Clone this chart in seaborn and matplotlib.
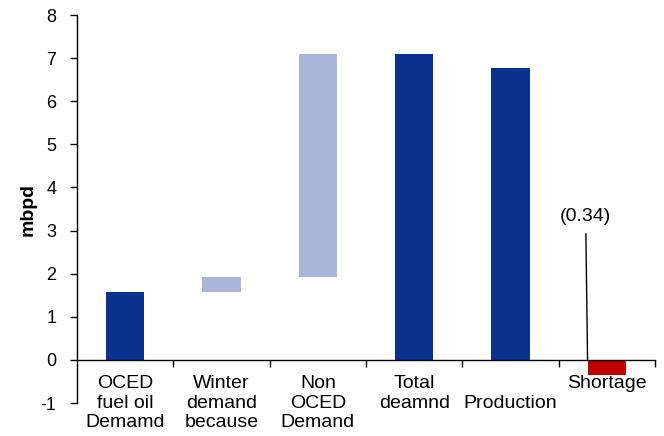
import matplotlib
matplotlib.use("Agg")
import matplotlib.pyplot as plt
import seaborn as sns
import pandas as pd

# Waterfall of supply/demand components (million barrels per day)
categories = [
    "OCED\nfuel oil\nDemamd",
    "Winter\ndemand\nbecause",
    "Non\nOCED\nDemand",
    "Total\ndeamnd",
    "\nProduction",
    "Shortage",
]
bar_base = [0.0, 1.58, 1.92, 0.0, 0.0, 0.0]
bar_value = [1.58, 0.34, 5.18, 7.10, 6.76, -0.34]
bar_kind = ["total", "step", "step", "total", "total", "gap"]
kind_colors = {"total": "#0B318F", "step": "#A8B4D8", "gap": "#C00000"}
shortage_label = "(0.34)"

sns.set_theme(style="white")
plt.rcParams["font.family"] = ["Liberation Sans", "DejaVu Sans"]

df = pd.DataFrame({"category": categories, "base": bar_base,
                   "value": bar_value, "kind": bar_kind})

fig = plt.figure(figsize=(6.64, 4.36), dpi=100)
ax = fig.add_axes([77 / 664, 33 / 436, 578 / 664, 388 / 436])

for kind, color in kind_colors.items():
    sub = df[df["kind"] == kind]
    sns.barplot(data=sub, x="category", y="value", order=categories,
                color=color, saturation=1, width=0.4,
                bottom=sub["base"].to_numpy(),
                errorbar=None, linewidth=0, ax=ax)

ax.set_xlim(-0.5, len(categories) - 0.5)
ax.set_ylim(-1, 8)
ax.set_yticks(range(-1, 9))
ax.set_yticklabels([str(v) for v in range(-1, 9)])

# category boundaries get the tick marks, centres carry the labels
ax.set_xticks([i + 0.5 for i in range(len(categories))])
ax.set_xticklabels([])
ax.set_xticks(range(len(categories)), minor=True)
ax.set_xticklabels(categories, minor=True, linespacing=1.05, va="top")
ax.tick_params(axis="x", which="major", direction="out", length=5,
               width=1, color="black", bottom=True)
ax.tick_params(axis="x", which="minor", length=0, pad=11, bottom=True,
               labelsize=14, labelcolor="black")
ax.tick_params(axis="y", direction="out", length=5, width=1,
               color="black", left=True, pad=10, labelsize=13,
               labelcolor="black")

for side in ("top", "right"):
    ax.spines[side].set_visible(False)
ax.spines["bottom"].set_position(("data", 0))
for side in ("left", "bottom"):
    ax.spines[side].set_color("black")
    ax.spines[side].set_linewidth(1)

ax.set_xlabel("")
ax.set_ylabel("mbpd", fontsize=14, fontweight="bold", labelpad=3,
              color="black")

ax.annotate(shortage_label, xy=(5 - 0.2, 0), xytext=(4.78, 3.33),
            ha="center", va="center", fontsize=14, color="black",
            arrowprops=dict(arrowstyle="-", color="black", lw=1,
                            shrinkA=4, shrinkB=0))

fig.savefig("out.png", dpi=100)
